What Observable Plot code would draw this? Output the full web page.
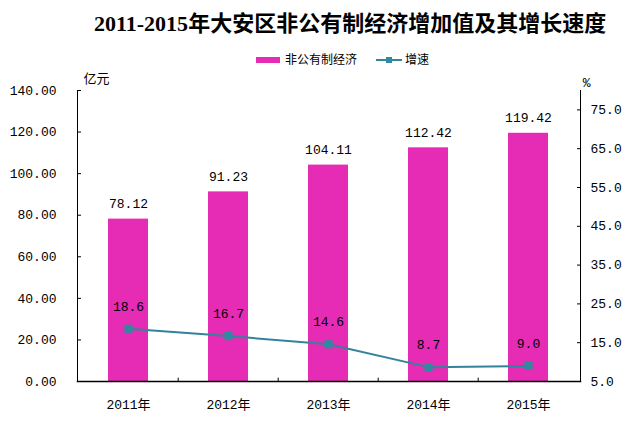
<!DOCTYPE html>
<html>
<head>
<meta charset="utf-8">
<script src="https://cdn.jsdelivr.net/npm/d3@7"></script>
<script src="https://cdn.jsdelivr.net/npm/@observablehq/plot@0.6"></script>
<style>
  body { margin: 0; background: #fff; }
  #wrap { position: relative; width: 632px; height: 424px; overflow: hidden; }
  #header { position: relative; width: 632px; height: 66px; }
  #title { position: absolute; left: 94px; top: 5px; line-height: 26px; text-align: left;
    font: bold 22px "Noto Sans CJK SC", sans-serif; color: #000; white-space: nowrap; }
  #title .num { font-family: "Liberation Serif", serif; }
  .leg { position: absolute; top: 51px; font: 12px "Noto Sans CJK SC", sans-serif; color: #000; line-height: 16px; white-space: nowrap; }
  .sw { display: inline-block; vertical-align: middle; }
</style>
</head>
<body>
<div id="wrap">
  <div id="header">
    <div id="title"><span class="num">2011-2015</span>年大安区非公有制经济增加值及其增长速度</div>
    <div class="leg" style="left:256px"><span class="sw" style="width:24px;height:6px;background:#E62BB4;margin-right:5px;position:relative;top:-1px"></span>非公有制经济</div>
    <div class="leg" style="left:376px"><svg class="sw" width="26" height="10" style="margin-right:3px;position:relative;top:-1px"><line x1="0" y1="5" x2="26" y2="5" stroke="#31849B" stroke-width="2"/><rect x="10" y="2" width="6" height="6" fill="#2E8A9E"/></svg>增速</div>
  </div>
  <div id="chart"></div>
</div>
<script>
const years = ["2011年", "2012年", "2013年", "2014年", "2015年"];
const values = [78.12, 91.23, 104.11, 112.42, 119.42];
const growth = [18.6, 16.7, 14.6, 8.7, 9.0];
const leftTicks = [0, 20, 40, 60, 80, 100, 120, 140];
const rightTicks = [5, 15, 25, 35, 45, 55, 65, 75];
const leftUnit = "亿元";
const rightUnit = "%";

const leftMax = 140, rightMin = 5, rightMax = 80;
const toLeft = g => (g - rightMin) * leftMax / (rightMax - rightMin);
const fromLeft = v => v * (rightMax - rightMin) / leftMax + rightMin;

const data = years.map((year, i) => ({year, value: values[i], growth: growth[i]}));

const pink = "#E62BB4";
const teal = "#31849B";
const numFont = '"Liberation Mono", "Noto Sans CJK SC", monospace';

const chart = Plot.plot({
  width: 632,
  height: 358,
  marginTop: 24,
  marginBottom: 43,
  marginLeft: 77,
  marginRight: 52,
  style: {fontFamily: numFont, fontSize: "13px", color: "#000", background: "#fff"},
  x: {domain: years, paddingInner: 0.6, paddingOuter: 0.3, label: null},
  y: {domain: [0, leftMax], label: null},
  marks: [
    Plot.barY(data, {x: "year", y: "value", fill: pink}),
    Plot.text(data, {x: "year", y: "value", text: d => d.value.toFixed(2), dy: -15, fontSize: 13, fill: "#000"}),
    Plot.line(data, {x: "year", y: d => toLeft(d.growth), stroke: teal, strokeWidth: 2}),
    Plot.dot(data, {x: "year", y: d => toLeft(d.growth), symbol: "square", r: 4.6, fill: "#2E8A9E", stroke: null}),
    Plot.text(data, {x: "year", y: d => toLeft(d.growth), text: d => d.growth.toFixed(1), dy: -22, fontSize: 13, fill: "#000"}),
    Plot.axisY(leftTicks, {anchor: "left", tickSize: -4, tickPadding: 25, tickFormat: d => d.toFixed(2), label: null, fontSize: 13}),
    Plot.axisY(rightTicks.map(toLeft), {anchor: "right", tickSize: -4, tickPadding: 14, tickFormat: d => fromLeft(d).toFixed(1), label: null, fontSize: 13}),
    Plot.axisX({tickSize: 0, tickPadding: 18, label: null, fontSize: 13}),
    Plot.tickX(years.slice(1), {x: d => d, dx: -50.3, insetTop: 287.7, stroke: "#000"}),
    Plot.frame({anchor: "left", stroke: "#000"}),
    Plot.frame({anchor: "right", stroke: "#000"}),
    Plot.frame({anchor: "bottom", stroke: "#000", strokeWidth: 1.5}),
    Plot.text([leftUnit], {frameAnchor: "top-left", text: d => d, dx: 6, dy: -17, fontSize: 13, fontFamily: '"Noto Sans CJK SC", sans-serif'}),
    Plot.text([rightUnit], {frameAnchor: "top-right", text: d => d, dx: 10, dy: -13, fontSize: 13})
  ]
});
document.getElementById("chart").appendChild(chart);
</script>
</body>
</html>
